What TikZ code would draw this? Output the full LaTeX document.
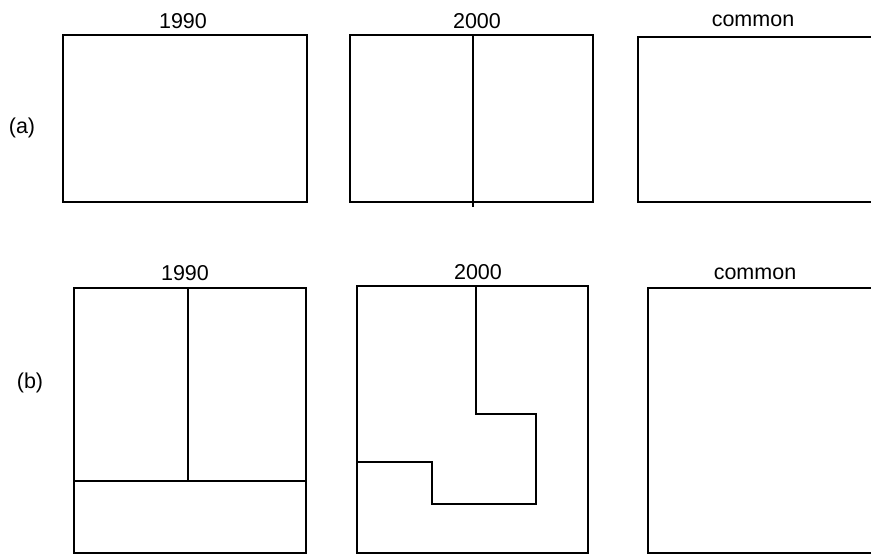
\documentclass[tikz,border=0pt]{standalone}
\usepackage{fontspec}
\setmainfont{Liberation Sans}
\tikzset{
  panel/.style={line width=1.8pt, line join=miter},
  split/.style={line width=1.8pt},
  caption/.style={font=\fontsize{21.5}{25}\selectfont, inner sep=0pt}
}
\begin{document}
\begin{tikzpicture}[x=1pt, y=-1pt]
			\useasboundingbox (0,0) rectangle (871,554);
			\clip (0,0) rectangle (871,554);
			% row (a)
			\node[caption] (rowa) at (22,128) {(a)};
			\node[caption] (a1990) at (183,21) {1990};
			\node[caption] (a2000) at (477,21) {2000};
			\node[caption] (acommon) at (753,21) {common};
			\draw[panel] (63,35) rectangle (307,202);
			\draw[panel] (350,35) rectangle (593,202);
			\draw[split] (473,35) -- (473,207);
			\draw[panel] (872,37) -- (638,37) -- (638,202) -- (872,202);
			% row (b)
			\node[caption] (rowb) at (30,383) {(b)};
			\node[caption] (b1990) at (185,273) {1990};
			\node[caption] (b2000) at (478,272) {2000};
			\node[caption] (bcommon) at (755,274) {common};
			\draw[panel] (74,288) rectangle (306,553);
			\draw[split] (188,288) -- (188,481);
			\draw[split] (74,481) -- (306,481);
			\draw[panel] (357,286) rectangle (588,553);
			\draw[split] (476,286) -- (476,414) -- (536,414) -- (536,504) -- (432,504) -- (432,462) -- (357,462);
			\draw[panel] (872,288) -- (648,288) -- (648,553) -- (872,553);
		\end{tikzpicture}
\end{document}
